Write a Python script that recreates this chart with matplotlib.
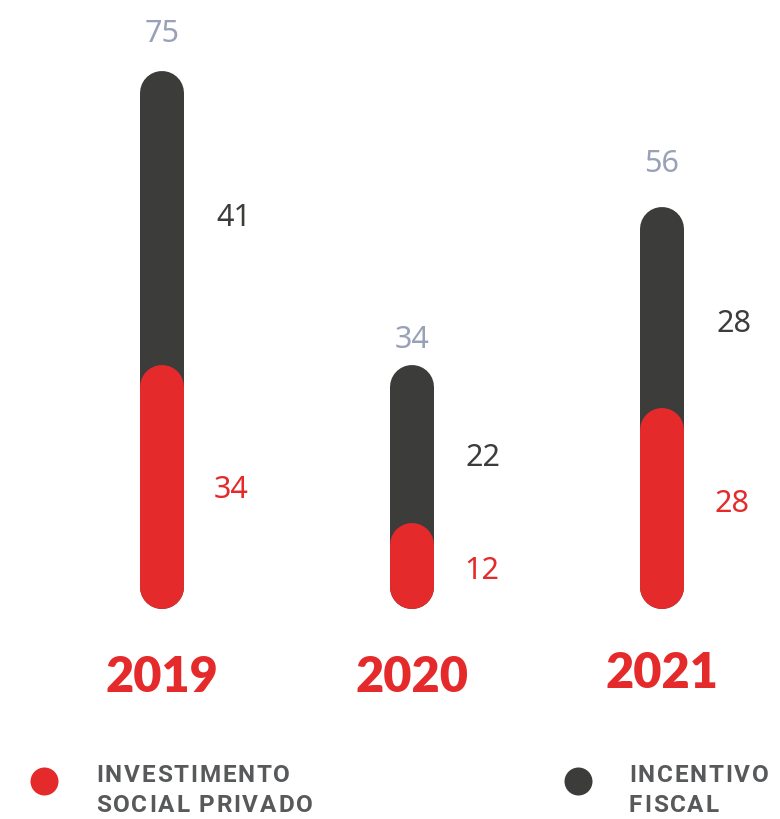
import matplotlib
matplotlib.use("Agg")
import matplotlib.pyplot as plt

years = ["2019", "2020", "2021"]
investimento = [34, 12, 28]
incentivo = [41, 22, 28]
totais = [75, 34, 56]
legend_labels = [["INVESTIMENTO", "SOCIAL PRIVADO"], ["INCENTIVO", "FISCAL"]]

RED = "#E42A2B"
DARK = "#3C3C3A"
GRAYBLUE = "#98A1B7"
LEGTXT = "#58595B"

# small pixel nudges for the labels (style only)
dark_dy = [0, -14, -17]
red_dy = [-3, -5, 4]
tot_dy = [-1, 11, -7]
year_dy = [0, 0, 4]

W, H, DPI = 780, 819, 100
fig = plt.figure(figsize=(W / DPI, H / DPI), dpi=DPI)
ax = fig.add_axes([0, 0, 1, 1])
ax.set_axis_off()

ppu = 7.18
y0_px = 609
ax.set_ylim((y0_px - H) / ppu, y0_px / ppu)
xpu = 250.0
x0_px = 162
ax.set_xlim(-x0_px / xpu, (W - x0_px) / xpu)

bar_px = 44
lw_pt = bar_px * 72 / DPI
r = (bar_px / 2) / ppu

NUMFONT = "Noto Sans"
xs = list(range(len(years)))
for i, x in enumerate(xs):
    tot = investimento[i] + incentivo[i]
    ax.plot([x, x], [r, tot - r], color=DARK, lw=lw_pt, solid_capstyle="round", zorder=2)
    ax.plot([x, x], [r, investimento[i] - r], color=RED, lw=lw_pt, solid_capstyle="round", zorder=3)
    ax.text(x, totais[i] + (36 - tot_dy[i]) / ppu, str(totais[i]), color=GRAYBLUE, fontsize=22,
            ha="center", va="center", family=NUMFONT)
    ax.text(x + 54 / xpu, investimento[i] + incentivo[i] / 2 + dark_dy[i] / ppu, str(incentivo[i]),
            color=DARK, fontsize=22, ha="left", va="center", family=NUMFONT)
    ax.text(x + 52 / xpu, investimento[i] / 2 + red_dy[i] / ppu, str(investimento[i]), color=RED,
            fontsize=22, ha="left", va="center", family=NUMFONT)
    ax.text(x, (-68 + year_dy[i]) / ppu, years[i], color=RED, fontsize=35, fontweight="heavy",
            ha="center", va="center", family="Lato")

# legend markers
leg_y = -(781 - y0_px) / ppu
ax.scatter([-(x0_px - 44) / xpu], [leg_y], s=(28 * 72 / DPI) ** 2, color=RED, zorder=4, linewidths=0)
ax.scatter([(578 - x0_px) / xpu], [leg_y], s=(28 * 72 / DPI) ** 2, color=DARK, zorder=4, linewidths=0)

renderer = fig.canvas.get_renderer()


def spaced_text(x_px, y_px, s, spacing_px, **kw):
    """Draw text in pixel coords (from top-left) with extra letter spacing."""
    cur = x_px
    for ch in s:
        t = fig.text(cur / W, 1 - y_px / H, ch, ha="left", va="center", **kw)
        if ch == " ":
            wpx = kw.get("fontsize", 12) * DPI / 72 * 0.25
        else:
            wpx = t.get_window_extent(renderer=renderer).width
        cur += wpx + spacing_px


legkw = dict(color=LEGTXT, fontsize=17.5, fontweight="bold", family="Roboto")
for lines, xstart in zip(legend_labels, [96, 629]):
    for j, line in enumerate(lines):
        spaced_text(xstart, 775 + 30 * j, line, 1.8, **legkw)

fig.savefig("out.png", dpi=DPI)
